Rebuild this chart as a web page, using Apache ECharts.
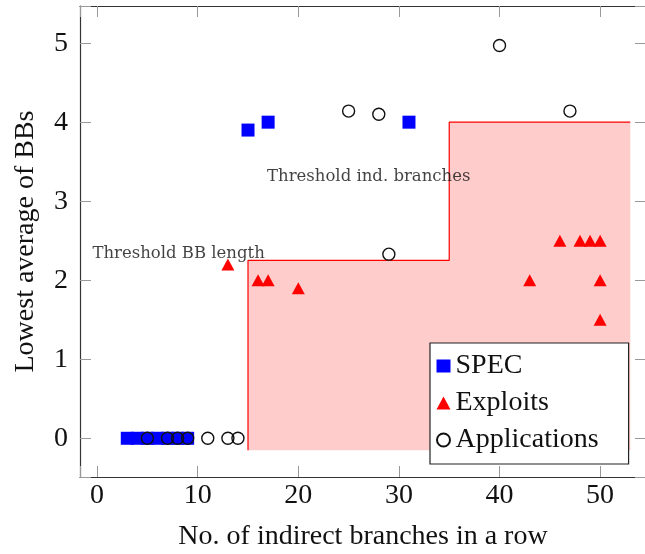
<!DOCTYPE html>
<html>
<head>
<meta charset="utf-8">
<script src="https://cdn.jsdelivr.net/npm/echarts@6/dist/echarts.min.js"></script>
<style>html,body{margin:0;padding:0;background:#fff}#main{width:645px;height:554px}</style>
</head>
<body>
<div id="main"></div>
<script>
// values
var specX=[3,4,5,6,7,8,9,15,17,31];
var specY=[0,0,0,0,0,0,0,3.9,4,4];
var exploitX=[13,16,17,20,43,46,48,49,50,50,50];
var exploitY=[2.2,2,2,1.9,2,2.5,2.5,2.5,2.5,2,1.5];
var appX=[5,7,8,9,11,13,14,25,28,29,40,47];
var appY=[0,0,0,0,0,0,0,4.14,4.1,2.33,4.97,4.14];
var threshX=[15,15,35,35,53];
var threshY=[-0.15,2.25,2.25,4,4];
var noteText=['Threshold ind. branches','Threshold BB length'];
var noteX=[27,8.1];
var noteY=[3.31,2.33];
var xTicks=[0,10,20,30,40,50];
var yTicks=[0,1,2,3,4,5];

var pairs=function(xs,ys){
  var out=[];
  for(var i=0;i<xs.length;i++){ out.push([xs[i],ys[i]]); }
  return out;
};
var notes=[];
for(var i=0;i<noteText.length;i++){ notes.push([noteX[i],noteY[i],noteText[i]]); }

var serif='"Liberation Serif", "DejaVu Serif", serif';
var XMIN=-1.7, XMAX=54.56, YMIN=-0.49, YMAX=5.47;

var axisCommon=function(ticks,show){
  return {
    axisLine:{show:true,onZero:false,lineStyle:{color:'#333',width:1.2}},
    axisTick:{show:true,inside:true,length:11,lineStyle:{color:'#999',width:1}},
    splitLine:{show:false},
    axisLabel:{show:show,color:'#111',fontFamily:serif,fontSize:28,
      formatter:function(v){ return ticks.indexOf(v)>=0 ? String(v) : ''; }}
  };
};

var xb=axisCommon(xTicks,true);
xb.type='value'; xb.position='bottom'; xb.min=XMIN; xb.max=XMAX;
xb.minInterval=10; xb.maxInterval=10;
xb.axisLabel.margin=5;
xb.name='No. of indirect branches in a row';
xb.nameLocation='middle'; xb.nameGap=46;
xb.nameTextStyle={fontFamily:serif,fontSize:28,color:'#111'};

var xt=axisCommon(xTicks,false);
xt.type='value'; xt.position='top'; xt.min=XMIN; xt.max=XMAX;
xt.minInterval=10; xt.maxInterval=10;

var yl=axisCommon(yTicks,true);
yl.type='value'; yl.position='left'; yl.min=YMIN; yl.max=YMAX;
yl.minInterval=1; yl.maxInterval=1;
yl.axisLabel.margin=12;
yl.name='Lowest average of BBs';
yl.nameLocation='middle'; yl.nameGap=40;
yl.nameTextStyle={fontFamily:serif,fontSize:28,color:'#111'};

var yr=axisCommon(yTicks,false);
yr.type='value'; yr.position='right'; yr.min=YMIN; yr.max=YMAX;
yr.minInterval=1; yr.maxInterval=1;

var option={
  animation:false,
  backgroundColor:'#fff',
  grid:{left:80,top:6,width:566,height:471,outerBoundsMode:'none',containLabel:false},
  xAxis:[xb,xt],
  yAxis:[yl,yr],
  legend:{
    data:['SPEC','Exploits','Applications'],
    orient:'vertical',left:430,top:343,
    backgroundColor:'#fff',borderColor:'#222',borderWidth:1.2,borderRadius:0,
    padding:[8,30,9,6],itemGap:7,itemWidth:14,itemHeight:13,
    textStyle:{fontFamily:serif,fontSize:28,color:'#111',lineHeight:30}
  },
  series:[
    {
      name:'threshold',type:'line',z:1,silent:true,
      data:pairs(threshX,threshY),
      symbol:'none',
      lineStyle:{color:'#ff0000',width:1.2},
      areaStyle:{color:'#ffcccc',opacity:1,origin:threshY[0]}
    },
    {
      name:'SPEC',type:'scatter',z:3,
      data:pairs(specX,specY),
      symbol:'rect',symbolSize:13,
      itemStyle:{color:'#0000ff',opacity:1}
    },
    {
      name:'Exploits',type:'scatter',z:3,
      data:pairs(exploitX,exploitY),
      symbol:'triangle',symbolSize:[13,12],
      itemStyle:{color:'#ff0000',opacity:1}
    },
    {
      name:'Applications',type:'scatter',z:4,
      data:pairs(appX,appY),
      symbol:'circle',symbolSize:12,
      itemStyle:{color:'transparent',borderColor:'#111',borderWidth:1.4,opacity:1}
    },
    {
      name:'notes',type:'scatter',z:5,silent:true,
      data:notes,symbolSize:0,
      label:{show:true,position:'inside',color:'#111',
        fontFamily:'"DejaVu Serif", serif',fontSize:16.5,
        formatter:function(p){ return p.value[2]; }}
    }
  ]
};
echarts.init(document.getElementById('main')).setOption(option);
</script>
</body>
</html>
